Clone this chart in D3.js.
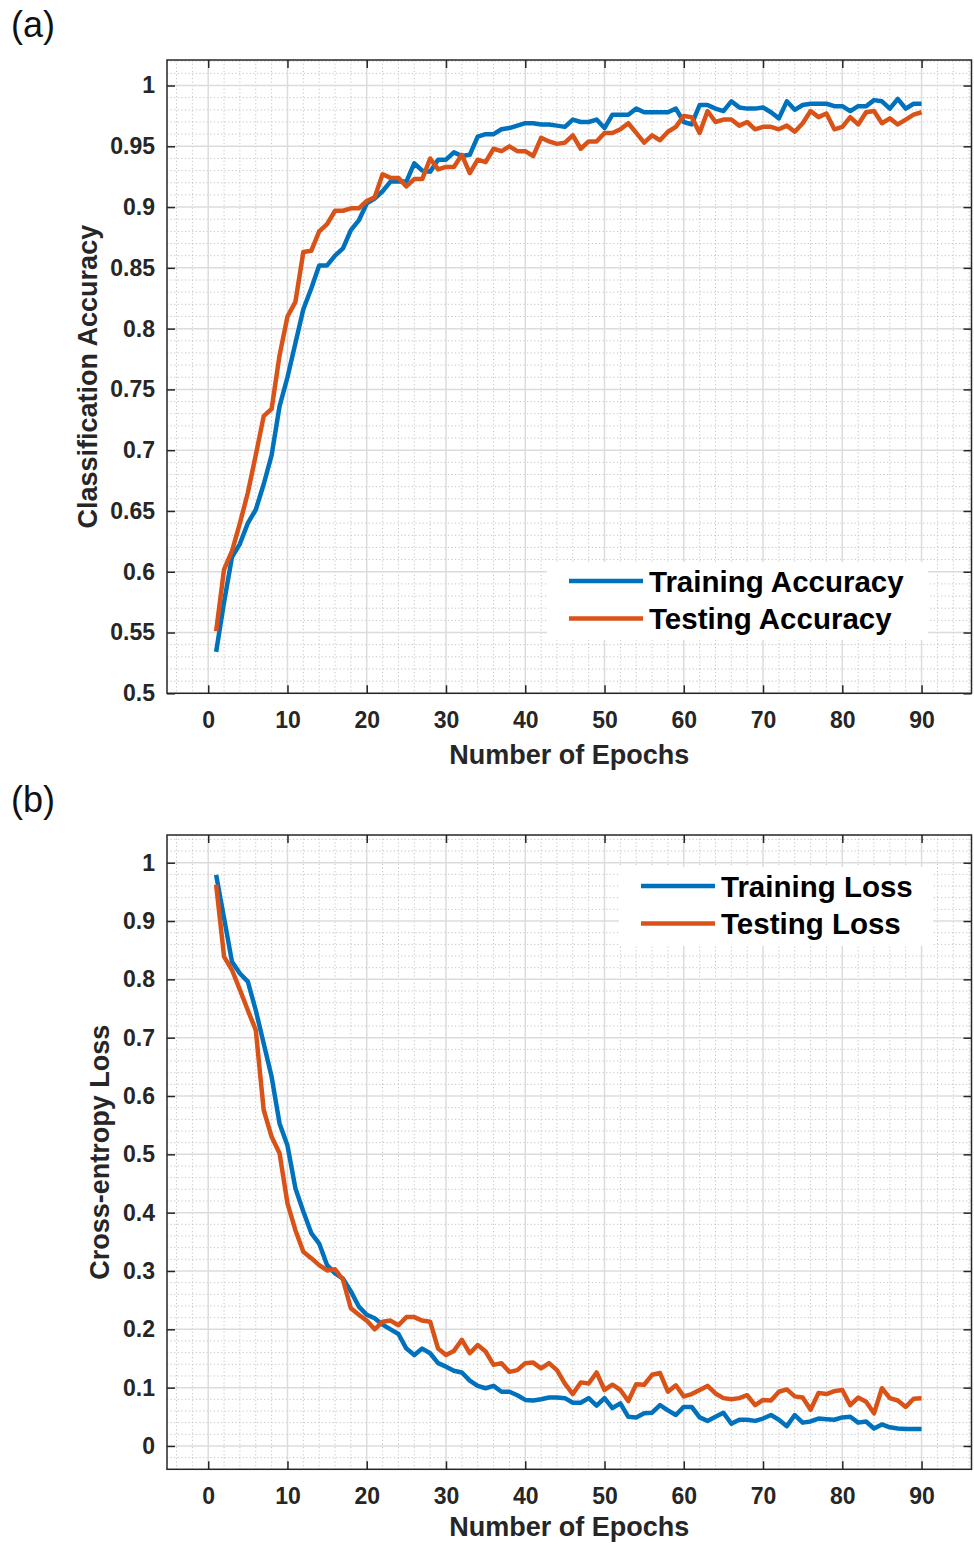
<!DOCTYPE html>
<html><head><meta charset="utf-8">
<script src="https://cdn.jsdelivr.net/npm/d3@7"></script>
<style>body{margin:0;background:#fff}svg{display:block}</style>
</head><body>
<script>
const epochs = d3.range(1, 91);
const xTicks = [0,10,20,30,40,50,60,70,80,90];
const yTicksA = [0.5,0.55,0.6,0.65,0.7,0.75,0.8,0.85,0.9,0.95,1];
const yTicksB = [0,0.1,0.2,0.3,0.4,0.5,0.6,0.7,0.8,0.9,1];
const seriesNamesA = ["Training Accuracy","Testing Accuracy"];
const seriesNamesB = ["Training Loss","Testing Loss"];

const trainAcc = [0.534,0.575,0.612,0.623,0.640,0.651,0.672,0.696,0.736,0.760,
0.788,0.816,0.833,0.852,0.852,0.860,0.866,0.881,0.889,0.903,
0.907,0.913,0.921,0.921,0.921,0.936,0.930,0.929,0.939,0.939,
0.945,0.942,0.943,0.958,0.960,0.960,0.964,0.965,0.967,0.969,
0.969,0.968,0.968,0.967,0.966,0.972,0.970,0.970,0.972,0.965,
0.976,0.976,0.976,0.981,0.978,0.978,0.978,0.978,0.981,0.970,
0.968,0.984,0.984,0.981,0.979,0.987,0.982,0.981,0.981,0.982,
0.978,0.973,0.987,0.980,0.984,0.985,0.985,0.985,0.983,0.983,
0.979,0.983,0.983,0.988,0.987,0.981,0.989,0.981,0.985,0.985];
const testAcc = [0.551,0.602,0.617,0.640,0.665,0.696,0.728,0.734,0.778,0.810,
0.822,0.863,0.864,0.880,0.886,0.897,0.897,0.899,0.899,0.905,
0.908,0.927,0.924,0.924,0.917,0.923,0.923,0.940,0.931,0.933,
0.933,0.943,0.928,0.939,0.937,0.948,0.946,0.950,0.946,0.946,
0.942,0.957,0.954,0.952,0.953,0.959,0.948,0.954,0.954,0.961,
0.961,0.964,0.969,0.961,0.953,0.959,0.955,0.962,0.966,0.975,
0.974,0.961,0.979,0.970,0.972,0.972,0.967,0.970,0.964,0.966,
0.966,0.964,0.967,0.962,0.969,0.979,0.974,0.977,0.964,0.966,
0.974,0.968,0.978,0.979,0.969,0.973,0.968,0.972,0.976,0.978];
const trainLoss = [0.979,0.905,0.830,0.810,0.796,0.747,0.690,0.633,0.553,0.515,
0.442,0.402,0.365,0.347,0.310,0.296,0.287,0.265,0.239,0.225,
0.219,0.208,0.200,0.192,0.167,0.156,0.167,0.159,0.142,0.136,
0.129,0.126,0.112,0.103,0.099,0.103,0.093,0.093,0.087,0.079,
0.078,0.080,0.083,0.083,0.082,0.074,0.074,0.082,0.069,0.082,
0.065,0.073,0.050,0.049,0.056,0.057,0.070,0.061,0.053,0.067,
0.067,0.049,0.043,0.050,0.057,0.038,0.045,0.045,0.043,0.047,
0.053,0.045,0.034,0.053,0.040,0.042,0.047,0.046,0.045,0.049,
0.050,0.040,0.042,0.030,0.037,0.032,0.030,0.029,0.029,0.029];
const testLoss = [0.962,0.839,0.816,0.782,0.747,0.713,0.576,0.530,0.502,0.416,
0.370,0.333,0.322,0.310,0.301,0.303,0.285,0.236,0.225,0.215,
0.200,0.213,0.215,0.207,0.221,0.221,0.215,0.213,0.167,0.156,
0.163,0.182,0.159,0.173,0.162,0.139,0.142,0.127,0.130,0.142,
0.143,0.133,0.142,0.130,0.107,0.089,0.109,0.107,0.126,0.096,
0.105,0.096,0.077,0.106,0.105,0.122,0.125,0.093,0.104,0.085,
0.089,0.096,0.103,0.090,0.082,0.080,0.082,0.087,0.070,0.079,
0.078,0.093,0.097,0.085,0.083,0.062,0.091,0.089,0.094,0.096,
0.070,0.083,0.076,0.056,0.099,0.082,0.078,0.067,0.081,0.082];

const colors = ["#0072BD", "#D95319"];
const FONT = "'Liberation Sans', Arial, Helvetica, sans-serif";
const W = 974, H = 1544;
const svg = d3.select("body").append("svg").attr("width", W).attr("height", H)
  .style("font-family", FONT);
svg.append("rect").attr("width", W).attr("height", H).attr("fill", "#fff");

function fmt(d){ return String(+d.toFixed(2)); }

function panel(o) {
  const L = 167, R = 971.5;
  const x = d3.scaleLinear().domain([-5.2, 96.3]).range([L, R]);
  const y = d3.scaleLinear().domain(o.yDomain).range([o.bottom, o.top]);
  const g = svg.append("g");

  // minor grid
  const xMinor = d3.range(-4, 97, 2).filter(v => v % 10 !== 0);
  const yMinor = d3.range(Math.round(o.yDomain[0]/o.minorStep), Math.floor(o.yDomain[1]/o.minorStep + 1e-6) + 1)
      .map(k => +(k*o.minorStep).toFixed(4))
      .filter(v => Math.abs(v/o.majorStep - Math.round(v/o.majorStep)) > 1e-6);
  const mg = g.append("g").attr("stroke", "#c4c4c4").attr("stroke-width", 1).attr("stroke-dasharray", "1.2,2.4");
  mg.selectAll(".vx").data(xMinor).join("line")
    .attr("x1", d => x(d)).attr("x2", d => x(d)).attr("y1", o.top).attr("y2", o.bottom);
  mg.selectAll(".hy").data(yMinor).join("line")
    .attr("y1", d => y(d)).attr("y2", d => y(d)).attr("x1", L).attr("x2", R);

  // major grid
  const Mg = g.append("g").attr("stroke", "#dcdcdc").attr("stroke-width", 1.5);
  Mg.selectAll(".vx").data(xTicks).join("line")
    .attr("x1", d => x(d)).attr("x2", d => x(d)).attr("y1", o.top).attr("y2", o.bottom);
  Mg.selectAll(".hy").data(o.yTicks).join("line")
    .attr("y1", d => y(d)).attr("y2", d => y(d)).attr("x1", L).attr("x2", R);

  // data lines
  const line = d3.line().x((d, i) => x(epochs[i])).y(d => y(d));
  o.series.forEach((s, i) => {
    g.append("path").datum(s).attr("d", line).attr("fill", "none")
      .attr("stroke", colors[i]).attr("stroke-width", 4.5)
      .attr("stroke-linejoin", "round");
  });

  // axes
  const tickCol = "#262626";
  const styleAxis = sel => {
    sel.select(".domain").remove();
    sel.selectAll(".tick line").attr("stroke", tickCol).attr("stroke-width", 1.5);
    sel.selectAll(".tick text").attr("fill", tickCol).attr("font-size", 23)
      .attr("font-weight", "bold").attr("font-family", FONT);
  };
  g.append("g").attr("transform", `translate(0,${o.bottom})`)
    .call(d3.axisBottom(x).tickValues(xTicks).tickSize(-8).tickPadding(18).tickFormat(fmt)).call(styleAxis);
  g.append("g").attr("transform", `translate(0,${o.top})`)
    .call(d3.axisTop(x).tickValues(xTicks).tickSize(-8).tickFormat("")).call(styleAxis);
  g.append("g").attr("transform", `translate(${L},0)`)
    .call(d3.axisLeft(y).tickValues(o.yTicks).tickSize(-8).tickPadding(12).tickFormat(fmt)).call(styleAxis);
  g.append("g").attr("transform", `translate(${R},0)`)
    .call(d3.axisRight(y).tickValues(o.yTicks).tickSize(-8).tickFormat("")).call(styleAxis);

  // box
  g.append("rect").attr("x", L).attr("y", o.top).attr("width", R - L).attr("height", o.bottom - o.top)
    .attr("fill", "none").attr("stroke", tickCol).attr("stroke-width", 1.5);

  // axis labels
  g.append("text").attr("x", (L + R) / 2).attr("y", o.bottom + o.xlabOff).attr("text-anchor", "middle")
    .attr("font-size", 27).attr("font-weight", "bold").attr("fill", tickCol).text("Number of Epochs");
  g.append("text").attr("transform", `translate(${o.ylabX},${(o.top + o.bottom) / 2}) rotate(-90)`)
    .attr("text-anchor", "middle").attr("font-size", 27).attr("font-weight", "bold").attr("fill", tickCol)
    .text(o.ylabel);

  // panel label
  g.append("text").attr("x", 11).attr("y", o.top - 23).attr("font-size", 36).attr("fill", "#111")
    .text(o.tag);

  // legend
  const lg = g.append("g");
  lg.append("rect").attr("x", o.leg.x).attr("y", o.leg.y).attr("width", o.leg.w).attr("height", o.leg.h)
    .attr("fill", "#fff");
  o.names.forEach((n, i) => {
    const ly = o.leg.y + 19 + i * 37.5;
    lg.append("line").attr("x1", o.leg.x + 22).attr("x2", o.leg.x + 96).attr("y1", ly).attr("y2", ly)
      .attr("stroke", colors[i]).attr("stroke-width", 4.5);
    lg.append("text").attr("x", o.leg.x + 102).attr("y", ly + 10.5).attr("font-size", 29.5)
      .attr("font-weight", "bold").attr("fill", "#000").text(n);
  });
}

panel({ top: 60, bottom: 693.3, yDomain: [0.5, 1.021], yTicks: yTicksA, majorStep: 0.05, minorStep: 0.01,
  series: [trainAcc, testAcc], names: seriesNamesA, ylabel: "Classification Accuracy", ylabX: 97,
  tag: "(a)", xlabOff: 71, leg: { x: 547, y: 562, w: 381, h: 78 } });
panel({ top: 835, bottom: 1469.3, yDomain: [-0.04, 1.0475], yTicks: yTicksB, majorStep: 0.1, minorStep: 0.02,
  series: [trainLoss, testLoss], names: seriesNamesB, ylabel: "Cross-entropy Loss", ylabX: 109,
  tag: "(b)", xlabOff: 66.5, leg: { x: 619, y: 867, w: 314, h: 79 } });
</script>
</body></html>
